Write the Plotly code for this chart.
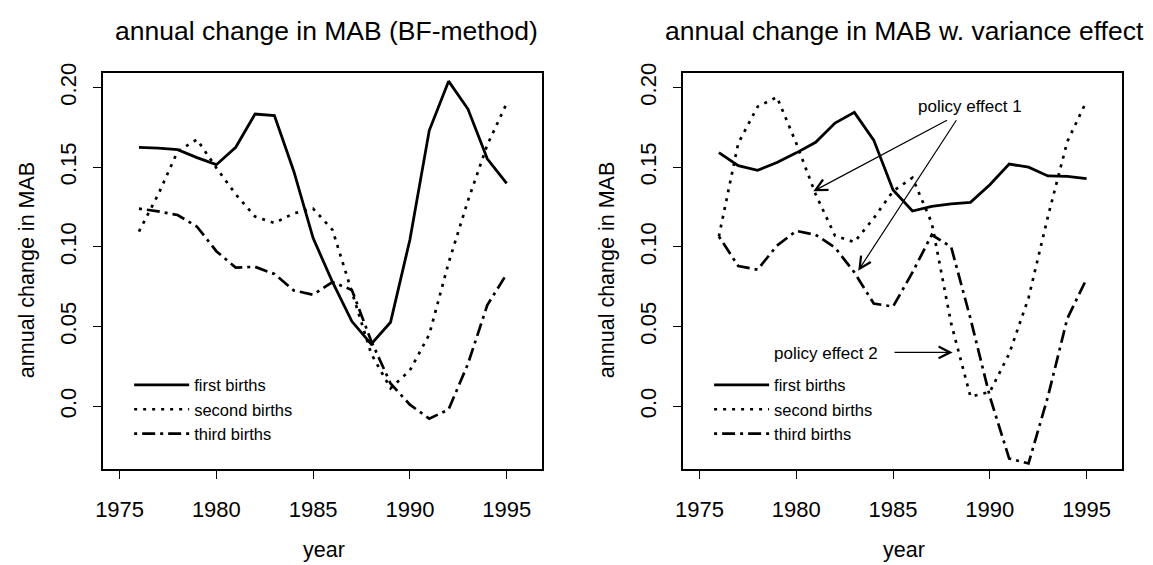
import plotly.graph_objects as go

# ---------------- data ----------------
years = list(range(1976, 1996))

# left panel: annual change in MAB (BF-method)
bf_first = [0.1625, 0.1620, 0.1610, 0.1560, 0.1516, 0.1625, 0.1834, 0.1824, 0.1475, 0.1055,
            0.0780, 0.0533, 0.0390, 0.0527, 0.1045, 0.1730, 0.2040, 0.1865, 0.1553, 0.1398]
bf_second = [0.1096, 0.1330, 0.1600, 0.1674, 0.1496, 0.1330, 0.1190, 0.1150, 0.1210, 0.1240,
             0.1107, 0.0720, 0.0330, 0.0113, 0.0225, 0.0450, 0.0900, 0.1290, 0.1640, 0.1900]
bf_third = [0.1240, 0.1223, 0.1200, 0.1127, 0.0973, 0.0870, 0.0875, 0.0830, 0.0727, 0.0700,
            0.0779, 0.0730, 0.0410, 0.0143, 0.0010, -0.0078, -0.0020, 0.0266, 0.0635, 0.0830]

# right panel: annual change in MAB w. variance effect
ve_first = [0.1592, 0.1510, 0.1480, 0.1530, 0.1590, 0.1656, 0.1777, 0.1844, 0.1670, 0.1357,
            0.1225, 0.1254, 0.1270, 0.1280, 0.1390, 0.1520, 0.1500, 0.1445, 0.1443, 0.1428]
ve_second = [0.1066, 0.1650, 0.1880, 0.1940, 0.1650, 0.1330, 0.1070, 0.1030, 0.1180, 0.1350,
             0.1434, 0.1150, 0.0520, 0.0060, 0.0090, 0.0330, 0.0680, 0.1190, 0.1660, 0.1916]
ve_third = [0.1066, 0.0880, 0.0857, 0.1008, 0.1100, 0.1076, 0.0996, 0.0840, 0.0645, 0.0625,
            0.0840, 0.1076, 0.1000, 0.0550, 0.0060, -0.0328, -0.0359, 0.0060, 0.0550, 0.0800]

series_names = ["first births", "second births", "third births"]
titles = ["annual change in MAB (BF-method)", "annual change in MAB w. variance effect"]
x_ticks = [1975, 1980, 1985, 1990, 1995]
y_ticks = [0.0, 0.05, 0.10, 0.15, 0.20]
y_ticktext = ["0.0", "0.05", "0.10", "0.15", "0.20"]
x_label = "year"
y_label = "annual change in MAB"

# annotation anchors (data coordinates, right panel)
pe1_text = (1988.98, 0.188)
pe1_arrows = [((1980.88, 0.1349), (1987.86, 0.1800)),
              ((1983.20, 0.0851), (1988.32, 0.1804))]
pe2_text = (1981.51, 0.0332)
pe2_arrow = ((1988.08, 0.0338), (1985.00, 0.0338))

# ---------------- styling ----------------
FONT = "Liberation Sans, Arial, Helvetica, sans-serif"
W, H = 1153, 565
styles = [dict(dash="solid", width=2.8),
          dict(dash="3px,6px", width=2.7),
          dict(dash="3px,5px,13px,5px", width=2.7)]

fig = go.Figure()
panels = [(bf_first, bf_second, bf_third), (ve_first, ve_second, ve_third)]
for p, data in enumerate(panels):
    xa = "x" if p == 0 else "x2"
    ya = "y" if p == 0 else "y2"
    lg = "legend" if p == 0 else "legend2"
    for name, vals, st in zip(series_names, data, styles):
        fig.add_trace(go.Scatter(
            x=years, y=vals, mode="lines", name=name,
            line=dict(color="black", width=st["width"], dash=st["dash"]),
            xaxis=xa, yaxis=ya, legend=lg, showlegend=True, hoverinfo="skip",
        ))

# plot-area positions (pixels)
left_dom = [96 / W, 538 / W]
right_dom = [680 / W, 1122 / W]
y_dom = [1 - 467 / H, 1 - 64 / H]

axis_common = dict(
    showgrid=False, zeroline=False, showline=True, linecolor="black", linewidth=1.5,
    mirror=True, ticks="outside", ticklen=9, tickwidth=1.3, tickcolor="black",
    tickfont=dict(family=FONT, size=22, color="black"), fixedrange=True,
)
xr = [1974.16, 1996.84]
yr = [-0.0392, 0.2092]
fig.update_layout(
    xaxis=dict(domain=left_dom, range=xr, tickvals=x_ticks, anchor="y",
               ticklabelstandoff=11, **axis_common),
    yaxis=dict(domain=y_dom, range=yr, tickvals=y_ticks, ticktext=y_ticktext,
               tickangle=-90, anchor="x", ticklabelstandoff=8, **axis_common),
    xaxis2=dict(domain=right_dom, range=xr, tickvals=x_ticks, anchor="y2",
                ticklabelstandoff=11, **axis_common),
    yaxis2=dict(domain=y_dom, range=yr, tickvals=y_ticks, ticktext=y_ticktext,
                tickangle=-90, anchor="x2", ticklabelstandoff=8, **axis_common),
)

annotations = []
# panel titles
for t, cx in zip(titles, [321, 903]):
    annotations.append(dict(text=t, x=cx / W, y=1 - 21 / H, xref="paper", yref="paper",
                            xanchor="center", yanchor="middle", showarrow=False,
                            font=dict(family=FONT, size=26.5, color="black")))
# axis titles
for cx in [318, 902]:
    annotations.append(dict(text=x_label, x=cx / W, y=1 - 550 / H, xref="paper", yref="paper",
                            xanchor="center", yanchor="middle", showarrow=False,
                            font=dict(family=FONT, size=21.5, color="black")))
for cx in [19, 603]:
    annotations.append(dict(text=y_label, x=cx / W, y=1 - 265 / H, xref="paper", yref="paper",
                            xanchor="center", yanchor="middle", showarrow=False, textangle=-90,
                            font=dict(family=FONT, size=21.5, color="black")))
# policy effect texts
for txt, pos in [("policy effect 1", pe1_text), ("policy effect 2", pe2_text)]:
    annotations.append(dict(text=txt, x=pos[0], y=pos[1], xref="x2", yref="y2",
                            xanchor="center", yanchor="middle", showarrow=False,
                            font=dict(family=FONT, size=17, color="black")))
# arrows
for tip, start in pe1_arrows + [pe2_arrow]:
    annotations.append(dict(text="", x=tip[0], y=tip[1], ax=start[0], ay=start[1],
                            xref="x2", yref="y2", axref="x2", ayref="y2",
                            showarrow=True, arrowhead=5, arrowsize=1.9, arrowwidth=1.2,
                            arrowcolor="black", standoff=0, startstandoff=0))

legend_common = dict(xanchor="left", yanchor="top", bgcolor="rgba(0,0,0,0)",
                     borderwidth=0, itemwidth=55, tracegroupgap=0,
                     font=dict(family=FONT, size=16.5, color="black"),
                     itemclick=False, itemdoubleclick=False)
fig.update_layout(
    legend=dict(x=122 / W, y=1 - 364 / H, **legend_common),
    legend2=dict(x=706 / W, y=1 - 364 / H, **legend_common),
    annotations=annotations,
    width=W, height=H,
    margin=dict(l=0, r=0, t=0, b=0),
    paper_bgcolor="white", plot_bgcolor="white",
    font=dict(family=FONT, color="black"),
    hovermode=False,
)

fig.write_html(
    "out.html",
    config={"displayModeBar": False, "staticPlot": False},
    post_script="document.body.style.margin='0';document.body.style.padding='0';"
                "document.body.style.overflow='hidden';",
)
